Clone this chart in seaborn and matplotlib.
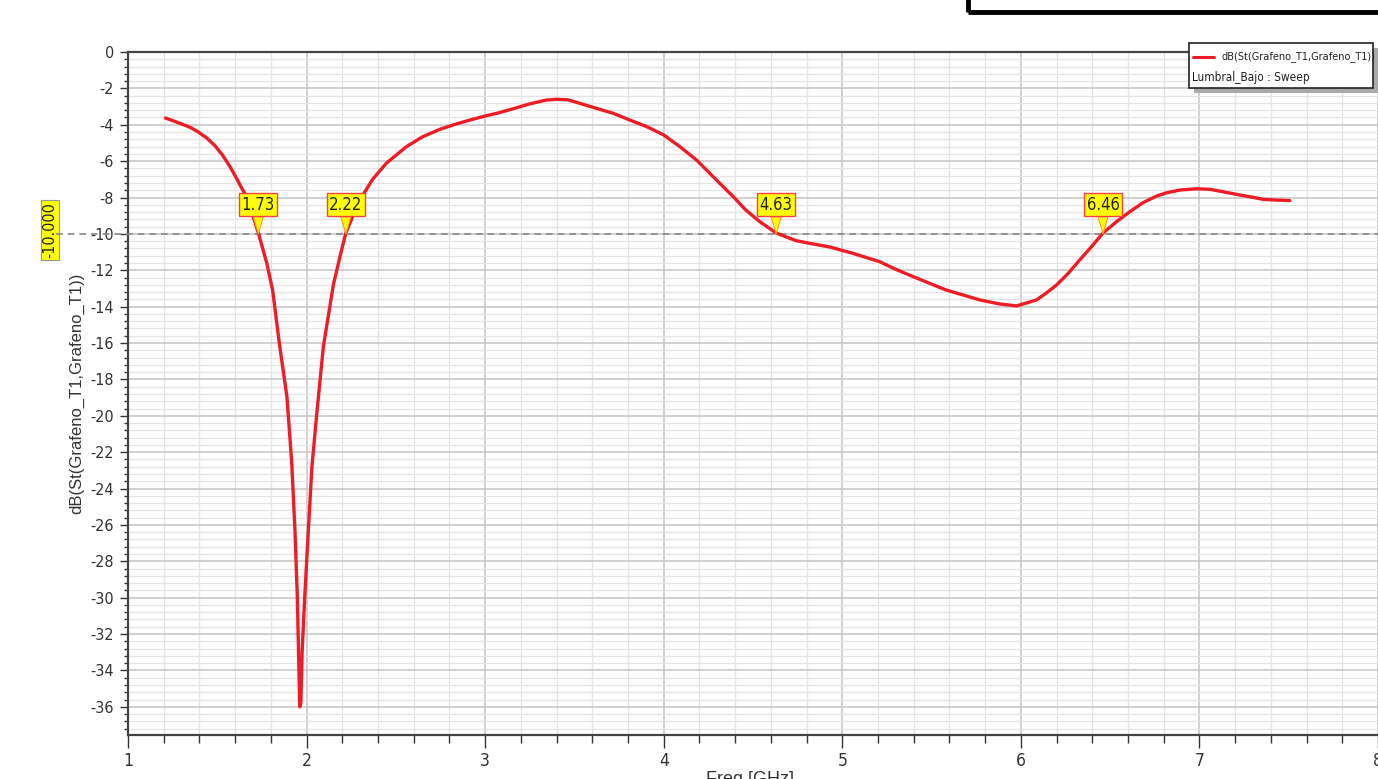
import pandas as pd
import seaborn as sns
import matplotlib.pyplot as plt
import matplotlib.font_manager as fm
import matplotlib.transforms as mtransforms
from matplotlib.patches import Rectangle
from matplotlib.lines import Line2D
from matplotlib.ticker import MultipleLocator

# S11 curve (Freq in GHz, value in dB)
freq = [1.21, 1.272, 1.35, 1.394, 1.44, 1.487, 1.53, 1.571, 1.61, 1.627, 1.655, 1.683,
        1.73, 1.777, 1.81, 1.85, 1.89, 1.917, 1.935, 1.948, 1.955, 1.962, 1.968, 1.975,
        1.99, 2.01, 2.03, 2.057, 2.094, 2.15, 2.187, 2.22, 2.26, 2.31, 2.37, 2.448,
        2.56, 2.65, 2.747, 2.84, 2.93, 3.0, 3.07, 3.157, 3.25, 3.344, 3.40, 3.465,
        3.624, 3.717, 3.81, 3.904, 4.0, 4.09, 4.184, 4.249, 4.314, 4.389, 4.46, 4.538,
        4.63, 4.74, 4.818, 4.93, 5.06, 5.21, 5.30, 5.397, 5.49, 5.58, 5.677, 5.77,
        5.88, 5.976, 6.088, 6.14, 6.2, 6.265, 6.33, 6.396, 6.46, 6.536, 6.61, 6.685,
        6.76, 6.816, 6.89, 6.984, 7.06, 7.13, 7.226, 7.30, 7.357, 7.43, 7.506]
db = [-3.63, -3.85, -4.15, -4.4, -4.72, -5.15, -5.68, -6.3, -6.98, -7.31, -7.8, -8.5,
      -9.95, -11.6, -13.1, -16.2, -18.95, -22.6, -26.3, -29.9, -33.0, -36.0, -35.8, -33.0,
      -29.9, -26.3, -22.8, -19.9, -16.2, -12.8, -11.25, -9.95, -9.0, -7.95, -7.0, -6.1,
      -5.2, -4.66, -4.25, -3.95, -3.70, -3.52, -3.36, -3.12, -2.85, -2.64, -2.6, -2.63,
      -3.1, -3.37, -3.74, -4.1, -4.56, -5.2, -5.94, -6.58, -7.22, -7.95, -8.69, -9.33,
      -9.95, -10.37, -10.52, -10.72, -11.07, -11.53, -11.95, -12.35, -12.72, -13.08, -13.36, -13.63,
      -13.85, -13.96, -13.63, -13.27, -12.81, -12.17, -11.43, -10.7, -9.95, -9.33, -8.78, -8.28,
      -7.92, -7.74, -7.59, -7.52, -7.55, -7.68, -7.86, -7.99, -8.1, -8.14, -8.17]

marker_freqs = [1.73, 2.22, 4.63, 6.46]
marker_labels = ["1.73", "2.22", "4.63", "6.46"]
threshold = -10.0

trace_label = "dB(St(Grafeno_T1,Grafeno_T1))"
setup_label = "Lumbral_Bajo : Sweep"

df = pd.DataFrame({"Freq [GHz]": freq, "dB": db})

sns.set_style("white")
plt.rcParams["font.family"] = ["Liberation Sans", "DejaVu Sans"]
plt.rcParams["axes.unicode_minus"] = False

# a condensed face, if one is installed, looks closer to the original tool
narrow = None
for f in fm.fontManager.ttflist:
    if f.style != "normal" or f.weight not in (400, "normal", "regular"):
        continue
    if "Narrow" in f.name or "Condensed" in f.name or f.stretch in ("condensed", "semi-condensed"):
        if narrow is None or "Liberation" in f.name:
            narrow = f.fname


def font(size):
    if narrow:
        return fm.FontProperties(fname=narrow, size=size)
    return fm.FontProperties(family=["Liberation Sans", "DejaVu Sans"], size=size * 0.85)


W, H = 1378, 779
fig = plt.figure(figsize=(W / 100, H / 100), dpi=100)
ax = fig.add_axes([128 / W, 1 - 735 / H, 1 - 128 / W, (735 - 52) / H])

sns.lineplot(data=df, x="Freq [GHz]", y="dB", ax=ax, color="#ee1c25",
             linewidth=2.4, sort=False, zorder=5, solid_joinstyle="round")

ax.set_xlim(1, 8)
ax.set_ylim(-37.55, 0)
ax.xaxis.set_major_locator(MultipleLocator(1))
ax.xaxis.set_minor_locator(MultipleLocator(0.2))
ax.yaxis.set_major_locator(MultipleLocator(2))
ax.yaxis.set_minor_locator(MultipleLocator(0.4))

ax.grid(which="major", color="#c4c4c4", linewidth=1.1)
ax.grid(which="minor", color="#e4e4e4", linewidth=0.9)
ax.set_axisbelow(True)

for side in ["left", "bottom", "top"]:
    ax.spines[side].set_color("#444444")
    ax.spines[side].set_linewidth(1.6)
ax.spines["right"].set_visible(False)

ax.tick_params(axis="y", which="major", direction="out", length=6, width=1,
               color="#333333", pad=4, left=True)
ax.tick_params(axis="y", which="minor", direction="out", length=3, width=1,
               color="#333333", left=True)
ax.tick_params(axis="x", which="major", direction="out", length=9.5, width=1,
               color="#333333", pad=3, bottom=True)
ax.tick_params(axis="x", which="minor", direction="out", length=5.5, width=1,
               color="#333333", bottom=True)
for lbl in ax.get_xticklabels():
    lbl.set_fontproperties(font(12.5))
    lbl.set_color("#333333")
for lbl in ax.get_yticklabels():
    lbl.set_fontproperties(font(11.5))
    lbl.set_color("#333333")

ax.set_xlabel("")
ax.set_ylabel(trace_label, fontsize=12, color="#333333")
ax.yaxis.set_label_coords(-0.035, 0.5)

# x label mostly cut by the bottom edge, as in the reference
fig.text(750 / W, 1 - 771 / H, "Freq [GHz]", ha="center", va="top", fontsize=13,
         color="#333333")

# threshold line and its value tag
ax.axhline(threshold, xmin=-0.058, xmax=1, color="#888888", linestyle=(0, (4, 3)),
           linewidth=1.2, clip_on=False, zorder=4)
trans = mtransforms.blended_transform_factory(ax.transAxes, ax.transData)
ax.text(-0.0624, threshold + 0.2, "-10.000", transform=trans, rotation=90,
        ha="center", va="center", fontproperties=font(11.5), color="#222222",
        bbox=dict(boxstyle="square,pad=0.12", fc="#ffff00", ec="#999999", lw=0.8))

# markers at the -10 dB crossings
for f, lab in zip(marker_freqs, marker_labels):
    ax.annotate(lab, xy=(f, threshold), xytext=(f, -8.4), ha="center", va="center",
                fontproperties=font(12), color="#222222", zorder=8,
                bbox=dict(boxstyle="square,pad=0.15", fc="#ffff00", ec="#ff4040", lw=1),
                arrowprops=dict(arrowstyle="wedge,tail_width=0.6,shrink_factor=0.5",
                                fc="#ffff00", ec="#ffa020", lw=0.8,
                                shrinkA=0, shrinkB=0))


# legend box (top right), drawn in figure pixels
def fx(px):
    return px / W


def fy(py):
    return 1 - py / H


fig.patches.append(Rectangle((fx(1194), fy(93)), fx(184), 45 / H, transform=fig.transFigure,
                             fc="#aaaaaa", ec="none", zorder=9))
fig.patches.append(Rectangle((fx(1189), fy(88)), fx(184), 45 / H, transform=fig.transFigure,
                             fc="white", ec="#222222", lw=1.2, zorder=10))
fig.lines.append(Line2D([fx(1193), fx(1214)], [fy(57), fy(57)], transform=fig.transFigure,
                        color="#ee1c25", lw=2.2, zorder=11))
fig.text(fx(1222), fy(57), trace_label, ha="left", va="center",
         fontproperties=font(7.8), color="#222222", zorder=11)
fig.text(fx(1192), fy(77), setup_label, ha="left", va="center",
         fontproperties=font(8.5), color="#222222", zorder=11)

# black frame cut by the top edge
fig.patches.append(Rectangle((fx(968), fy(12)), fx(430), 30 / H, transform=fig.transFigure,
                             fc="none", ec="black", lw=3.5, zorder=10))

fig.savefig("out.png", dpi=100)
